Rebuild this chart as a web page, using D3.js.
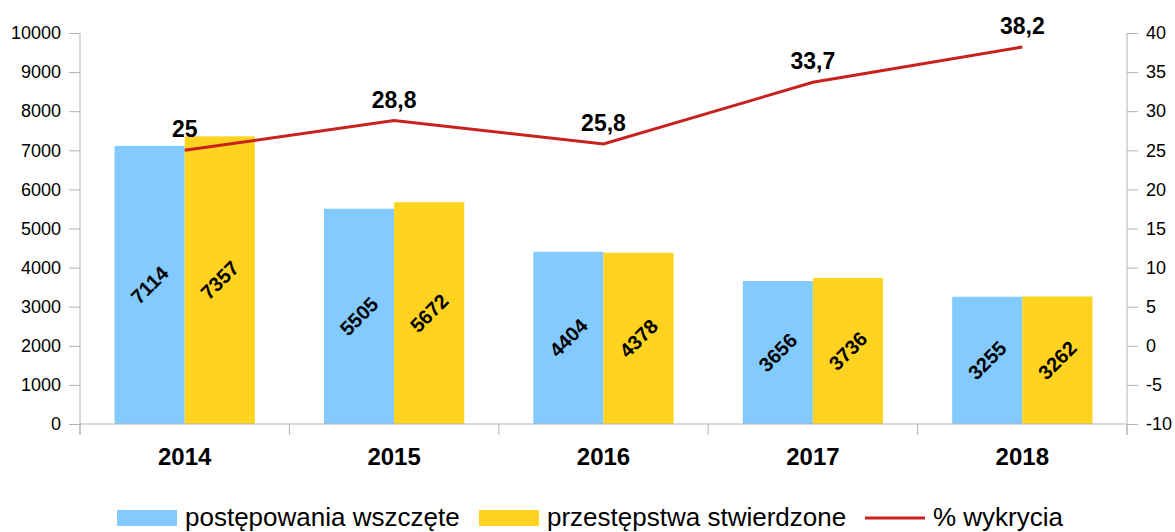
<!DOCTYPE html>
<html>
<head>
<meta charset="utf-8">
<script src="https://cdn.jsdelivr.net/npm/d3@7"></script>
<style>
  body { margin: 0; background: #fff; }
  svg { font-family: "Liberation Sans", Arial, sans-serif; }
</style>
</head>
<body>
<svg id="chart"></svg>
<script>
const years = ["2014", "2015", "2016", "2017", "2018"];
const wszczete = [7114, 5505, 4404, 3656, 3255];
const stwierdzone = [7357, 5672, 4378, 3736, 3262];
const wykrycia = [25, 28.8, 25.8, 33.7, 38.2];
const wykryciaLabels = ["25", "28,8", "25,8", "33,7", "38,2"];
const leftTicks = d3.range(0, 10001, 1000);
const rightTicks = d3.range(-10, 41, 5);

const W = 1175, H = 532;
const margin = {top: 33, right: 48, bottom: 108, left: 80};
const innerW = W - margin.left - margin.right;
const innerH = H - margin.top - margin.bottom;

const svg = d3.select('#chart').attr('width', W).attr('height', H);
const chart = svg.append('g')
    .attr('transform', `translate(${margin.left}, ${margin.top})`);

const xscale = d3.scaleBand().domain(years).range([0, innerW]).padding(0);
const yleft = d3.scaleLinear().domain([0, 10000]).range([innerH, 0]);
const yright = d3.scaleLinear().domain([-10, 40]).range([innerH, 0]);

const barW = xscale.bandwidth() * 0.335;

// bars
const series = [
    {name: 'postępowania wszczęte', values: wszczete, color: '#83CAFF', off: -1},
    {name: 'przestępstwa stwierdzone', values: stwierdzone, color: '#FFD320', off: 0}
];
series.forEach(s => {
    const g = chart.append('g');
    g.selectAll('rect')
        .data(s.values)
        .enter()
        .append('rect')
        .attr('x', (d, i) => xscale(years[i]) + xscale.bandwidth() / 2 + s.off * barW)
        .attr('y', d => yleft(d))
        .attr('width', barW)
        .attr('height', d => innerH - yleft(d))
        .attr('fill', s.color);
    g.selectAll('text')
        .data(s.values)
        .enter()
        .append('text')
        .attr('transform', (d, i) => {
            const cx = xscale(years[i]) + xscale.bandwidth() / 2 + s.off * barW + barW / 2;
            const cy = (yleft(d) + innerH) / 2;
            return `translate(${cx}, ${cy}) rotate(-45)`;
        })
        .attr('text-anchor', 'middle')
        .attr('dy', '0.35em')
        .attr('font-size', '20px')
        .attr('font-weight', 'bold')
        .attr('fill', '#000')
        .text(d => d);
});

// axes
const gridColor = '#b3b3b3';
const xaxis = chart.append('g').attr('transform', `translate(0, ${innerH})`);
xaxis.append('line').attr('x1', 0).attr('x2', innerW).attr('stroke', gridColor);
xaxis.selectAll('line.tk')
    .data(d3.range(years.length + 1))
    .enter()
    .append('line')
    .attr('class', 'tk')
    .attr('x1', i => i * xscale.step()).attr('x2', i => i * xscale.step())
    .attr('y1', 0).attr('y2', 11)
    .attr('stroke', gridColor);
xaxis.selectAll('text')
    .data(years)
    .enter()
    .append('text')
    .attr('x', d => xscale(d) + xscale.bandwidth() / 2)
    .attr('y', 41)
    .attr('text-anchor', 'middle')
    .attr('font-size', '24px')
    .attr('font-weight', 'bold')
    .attr('fill', '#000')
    .text(d => d);

const yaxisL = chart.append('g')
    .call(d3.axisLeft(yleft).tickValues(leftTicks).tickFormat(d => String(d)).tickSize(11).tickPadding(8));
yaxisL.select('.domain').remove();
yaxisL.append('line').attr('x1', 0).attr('x2', 0).attr('y1', 0).attr('y2', innerH + 11).attr('stroke', gridColor);
yaxisL.selectAll('.tick line').attr('stroke', gridColor);
yaxisL.selectAll('.tick text').attr('font-size', '18px').attr('fill', '#000')
    .attr('font-family', '"Liberation Sans", Arial, sans-serif');

const yaxisR = chart.append('g')
    .attr('transform', `translate(${innerW}, 0)`)
    .call(d3.axisRight(yright).tickValues(rightTicks).tickFormat(d => String(d)).tickSize(11).tickPadding(8));
yaxisR.select('.domain').remove();
yaxisR.append('line').attr('x1', 0).attr('x2', 0).attr('y1', 0).attr('y2', innerH + 11).attr('stroke', gridColor);
yaxisR.selectAll('.tick line').attr('stroke', gridColor);
yaxisR.selectAll('.tick text').attr('font-size', '18px').attr('fill', '#000')
    .attr('font-family', '"Liberation Sans", Arial, sans-serif');

// line
const line = d3.line()
    .x((d, i) => xscale(years[i]) + xscale.bandwidth() / 2)
    .y(d => yright(d));
chart.append('path')
    .datum(wykrycia)
    .attr('d', line)
    .attr('fill', 'none')
    .attr('stroke', '#C9211E')
    .attr('stroke-width', 3);
chart.append('g').selectAll('text')
    .data(wykrycia)
    .enter()
    .append('text')
    .attr('x', (d, i) => xscale(years[i]) + xscale.bandwidth() / 2)
    .attr('y', d => yright(d) - 13)
    .attr('text-anchor', 'middle')
    .attr('font-size', '23px')
    .attr('font-weight', 'bold')
    .attr('fill', '#000')
    .text((d, i) => wykryciaLabels[i]);

// legend
const legend = svg.append('g').attr('transform', 'translate(0, 518)');
const items = [
    {x: 117, type: 'rect', color: '#83CAFF', label: 'postępowania wszczęte'},
    {x: 479, type: 'rect', color: '#FFD320', label: 'przestępstwa stwierdzone'},
    {x: 865, type: 'line', color: '#C9211E', label: '% wykrycia'}
];
items.forEach(it => {
    if (it.type === 'rect') {
        legend.append('rect').attr('x', it.x).attr('y', -8).attr('width', 60).attr('height', 16).attr('fill', it.color);
    } else {
        legend.append('line').attr('x1', it.x).attr('x2', it.x + 60).attr('y1', 0).attr('y2', 0)
            .attr('stroke', it.color).attr('stroke-width', 3);
    }
    legend.append('text')
        .attr('x', it.x + 68)
        .attr('y', 8)
        .attr('font-size', '26px')
        .attr('fill', '#000')
        .text(it.label);
});
</script>
</body>
</html>
